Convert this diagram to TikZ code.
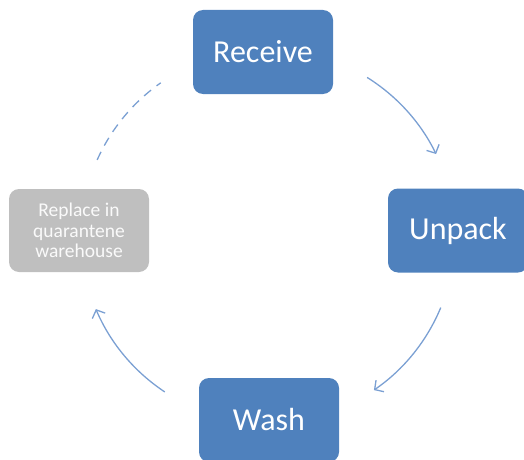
\documentclass[tikz,border=0pt]{standalone}
\usepackage{fontspec}
\setmainfont{Carlito}
\usetikzlibrary{arrows.meta,calc}
\definecolor{stepblue}{HTML}{4F81BD}
\definecolor{stepgray}{HTML}{BFBFBF}
\definecolor{flowblue}{HTML}{7BA0D3}
\begin{document}
\begin{tikzpicture}[x=1pt,y=1pt,
  stepbox/.style={rectangle, rounded corners=10pt, minimum width=140pt, minimum height=84pt,
    inner sep=0pt, fill=stepblue, text=white, font=\fontsize{32}{36}\selectfont},
  holdbox/.style={stepbox, fill=stepgray, minimum height=83pt, text=white!92!stepgray,
    align=center, font=\fontsize{19.5}{20.5}\selectfont},
  flow/.style={draw=flowblue, line width=1.3pt, -{Straight Barb[length=6.5pt,width=14pt,line width=1.3pt]}},
  backflow/.style={draw=flowblue, line width=1.3pt, dash pattern=on 9pt off 7pt}]
\useasboundingbox (0,0) rectangle (524,459);

% process steps
\node[stepbox] (recv) at (263,407) {Receive};
\node[stepbox] (unpk) at (458,228.5) {Unpack};
\node[stepbox] (wash) at (269,39) {Wash};
\node[holdbox] (repl) at (79,228.5) {Replace in\\quarantene\\warehouse};

% cycle centre and arc end points
\coordinate (ctr) at (268,223);
\def\rad{187}
\coordinate (a1) at ($(ctr)+(58:\rad)$);
\coordinate (a2) at ($(ctr)+(-22.5:\rad)$);
\coordinate (a3) at ($(ctr)+(-123.5:\rad)$);
\coordinate (a4) at ($(ctr)+(156:\rad)$);

% connectors around the cycle
\draw[flow] (a1) arc[start angle=58, end angle=26, radius=\rad];
\draw[flow] (a2) arc[start angle=-22.5, end angle=-55.5, radius=\rad];
\draw[flow] (a3) arc[start angle=-123.5, end angle=-157, radius=\rad];
\draw[backflow] (a4) arc[start angle=156, end angle=125, radius=\rad];
\end{tikzpicture}
\end{document}
